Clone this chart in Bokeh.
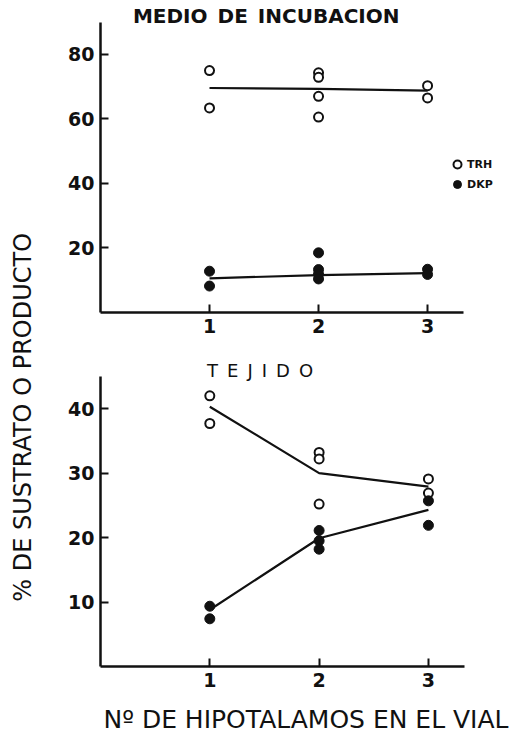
import math
from bokeh.plotting import figure
from bokeh.layouts import row, column
from bokeh.models import Range1d, FixedTicker, Label, Legend, LegendItem
from bokeh.embed import file_html
from bokeh.resources import INLINE

# ---- data ----
x_ticks = [1, 2, 3]
y_ticks_medio = [20, 40, 60, 80]
y_ticks_tejido = [10, 20, 30, 40]

medio_trh_x = [1, 1, 2, 2, 2, 2, 3, 3]
medio_trh_y = [75.0, 63.4, 74.3, 72.9, 67.0, 60.6, 70.3, 66.5]
medio_trh_line = [69.6, 69.3, 68.8]
medio_dkp_x = [1, 1, 2, 2, 2, 2, 3, 3]
medio_dkp_y = [12.8, 8.2, 18.5, 13.3, 11.9, 10.4, 13.4, 11.8]
medio_dkp_line = [10.6, 11.6, 12.2]

tejido_trh_x = [1, 1, 2, 2, 2, 3, 3]
tejido_trh_y = [42.0, 37.7, 33.2, 32.2, 25.2, 29.1, 26.9]
tejido_trh_line = [40.3, 30.0, 27.9]
tejido_dkp_x = [1, 1, 2, 2, 2, 3, 3]
tejido_dkp_y = [9.35, 7.4, 21.1, 19.5, 18.2, 25.7, 21.9]
tejido_dkp_line = [8.8, 19.9, 24.3]

FONT = "DejaVu Sans"
BLACK = "#111111"


def style_axes(p, yticks, ybounds):
    p.xaxis.ticker = FixedTicker(ticks=x_ticks)
    p.yaxis.ticker = FixedTicker(ticks=yticks)
    p.xaxis.bounds = (0, 3.33)
    p.yaxis.bounds = ybounds
    for ax in (p.xaxis, p.yaxis):
        ax.axis_line_width = 2.5
        ax.axis_line_color = BLACK
        ax.major_tick_line_width = 2
        ax.major_tick_line_color = BLACK
        ax.major_tick_in = 8
        ax.major_tick_out = 0
        ax.minor_tick_line_color = None
        ax.major_label_text_font = FONT
        ax.major_label_text_font_style = "bold"
        ax.major_label_text_font_size = "19px"
        ax.major_label_text_color = BLACK
    p.yaxis.major_label_standoff = 6
    p.xaxis.major_label_standoff = 6
    p.xgrid.visible = False
    p.ygrid.visible = False
    p.outline_line_color = None
    p.background_fill_color = "white"
    p.border_fill_color = "white"


# ---- top panel: MEDIO DE INCUBACION ----
top = figure(width=473, height=340, output_backend="svg", toolbar_location=None,
             x_range=Range1d(0, 3.77), y_range=Range1d(0, 96.1),
             min_border_left=59, min_border_right=2, min_border_top=2, min_border_bottom=28)
style_axes(top, y_ticks_medio, (0, 90))

top.line(x_ticks, medio_trh_line, line_color=BLACK, line_width=2.2)
top.line(x_ticks, medio_dkp_line, line_color=BLACK, line_width=2.2)
r_trh = top.scatter(medio_trh_x, medio_trh_y, marker="circle", size=9,
                    fill_color="white", line_color=BLACK, line_width=2)
r_dkp = top.scatter(medio_dkp_x, medio_dkp_y, marker="circle", size=10,
                    fill_color=BLACK, line_color=BLACK)

top.add_layout(Label(x=1.52, y=92.0, text="MEDIO\u2002DE\u2002INCUBACION", text_font=FONT,
                     text_font_style="bold", text_font_size="20px", text_color=BLACK,
                     text_align="center", text_baseline="middle"))

legend = Legend(items=[LegendItem(label="TRH", renderers=[r_trh]),
                       LegendItem(label="DKP", renderers=[r_dkp])],
                location=(347, 118), orientation="vertical",
                glyph_width=20, glyph_height=20, label_standoff=0,
                label_text_font=FONT, label_text_font_style="bold",
                label_text_font_size="11px", label_text_color=BLACK,
                label_height=14, spacing=-5, padding=2, margin=0,
                border_line_color=None, background_fill_alpha=0)
top.add_layout(legend)

# ---- bottom panel: TEJIDO ----
bot = figure(width=473, height=407, output_backend="svg", toolbar_location=None,
             x_range=Range1d(0, 3.76), y_range=Range1d(0, 49.8),
             min_border_left=60, min_border_right=2, min_border_top=5, min_border_bottom=81)
style_axes(bot, y_ticks_tejido, (0, 45))

bot.line(x_ticks, tejido_trh_line, line_color=BLACK, line_width=2.2)
bot.line(x_ticks, tejido_dkp_line, line_color=BLACK, line_width=2.2)
bot.scatter(tejido_trh_x, tejido_trh_y, marker="circle", size=9,
            fill_color="white", line_color=BLACK, line_width=2)
bot.scatter(tejido_dkp_x, tejido_dkp_y, marker="circle", size=10,
            fill_color=BLACK, line_color=BLACK)

bot.add_layout(Label(x=1.46, y=45.9, text="T\u2002E\u2002J\u2002I\u2002D\u2002O", text_font=FONT,
                     text_font_size="18px", text_color=BLACK,
                     text_align="center", text_baseline="middle"))

bot.xaxis.axis_label = "Nº DE HIPOTALAMOS EN EL VIAL"
bot.xaxis.axis_label_text_font = FONT
bot.xaxis.axis_label_text_font_style = "normal"
bot.xaxis.axis_label_text_font_size = "25px"
bot.xaxis.axis_label_text_color = BLACK
bot.xaxis.axis_label_standoff = 15

# ---- y label strip ----
lab = figure(width=40, height=747, output_backend="svg", toolbar_location=None,
             x_range=Range1d(0, 1), y_range=Range1d(0, 1),
             min_border=0)
lab.axis.visible = False
lab.xgrid.visible = False
lab.ygrid.visible = False
lab.outline_line_color = None
lab.add_layout(Label(x=0.55, y=0.442, text="% DE SUSTRATO O PRODUCTO", angle=math.pi / 2,
                     text_font=FONT, text_font_size="24px", text_color=BLACK,
                     text_align="center", text_baseline="middle"))

layout = row(lab, column(top, bot, spacing=0), spacing=0)

open("out.html", "w").write(file_html(layout, INLINE))
